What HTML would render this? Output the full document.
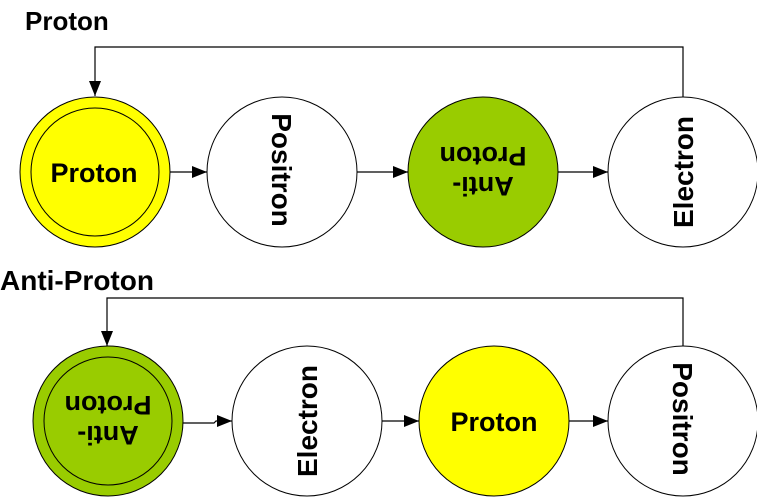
<!DOCTYPE html>
<html><head><style>
html,body{margin:0;padding:0;background:#fff;}
svg{display:block;}
text{font-family:"Liberation Sans",Arial,sans-serif;font-weight:bold;fill:#000;}
</style></head><body>
<svg width="757" height="499" viewBox="0 0 757 499" xmlns="http://www.w3.org/2000/svg">
<defs>
<marker id="ah" markerWidth="15" markerHeight="12" refX="15" refY="6" orient="auto" markerUnits="userSpaceOnUse">
<path d="M0,0 L15,6 L0,12 z" fill="#000"/>
</marker>
</defs>
<text x="25" y="30" font-size="26">Proton</text>
<text x="0" y="290" font-size="28">Anti-Proton</text>

<!-- top row -->
<polyline points="683,97 683,47 95,47 95,96" fill="none" stroke="#000" stroke-width="1.2" marker-end="url(#ah)"/>
<circle cx="95" cy="172" r="75" fill="#ffff00" stroke="#000" stroke-width="1"/>
<circle cx="95" cy="172" r="64" fill="none" stroke="#000" stroke-width="1"/>
<text x="94" y="182" font-size="27" text-anchor="middle">Proton</text>
<line x1="170" y1="172" x2="207" y2="172" stroke="#000" stroke-width="1.2" marker-end="url(#ah)"/>
<circle cx="282" cy="172" r="75" fill="#fff" stroke="#000" stroke-width="1"/>
<text transform="translate(272,170) rotate(90)" font-size="28" text-anchor="middle">Positron</text>
<line x1="357" y1="172" x2="408" y2="172" stroke="#000" stroke-width="1.2" marker-end="url(#ah)"/>
<circle cx="483" cy="172" r="75" fill="#99cc00" stroke="#000" stroke-width="1"/>
<text transform="translate(483,172) rotate(180)" font-size="27" text-anchor="middle"><tspan x="0" y="-5">Anti-</tspan><tspan x="0" y="25">Proton</tspan></text>
<line x1="558" y1="172" x2="608" y2="172" stroke="#000" stroke-width="1.2" marker-end="url(#ah)"/>
<circle cx="683" cy="172" r="75" fill="#fff" stroke="#000" stroke-width="1"/>
<text transform="translate(693,172) rotate(-90)" font-size="28" text-anchor="middle">Electron</text>

<!-- bottom row -->
<polyline points="683,346 683,298 107,298 107,346" fill="none" stroke="#000" stroke-width="1.2" marker-end="url(#ah)"/>
<circle cx="108" cy="421" r="75" fill="#99cc00" stroke="#000" stroke-width="1"/>
<circle cx="108" cy="421" r="64" fill="none" stroke="#000" stroke-width="1"/>
<text transform="translate(108,421) rotate(180)" font-size="27" text-anchor="middle"><tspan x="0" y="-5">Anti-</tspan><tspan x="0" y="25">Proton</tspan></text>
<polyline points="183,423 214,423 216,421 232,421" fill="none" stroke="#000" stroke-width="1.2" marker-end="url(#ah)"/>
<circle cx="307" cy="421" r="75" fill="#fff" stroke="#000" stroke-width="1"/>
<text transform="translate(317,421) rotate(-90)" font-size="28" text-anchor="middle">Electron</text>
<line x1="382" y1="421" x2="419" y2="421" stroke="#000" stroke-width="1.2" marker-end="url(#ah)"/>
<circle cx="494" cy="421" r="75" fill="#ffff00" stroke="#000" stroke-width="1"/>
<text x="494" y="431" font-size="27" text-anchor="middle">Proton</text>
<line x1="569" y1="421" x2="608" y2="421" stroke="#000" stroke-width="1.2" marker-end="url(#ah)"/>
<circle cx="683" cy="421" r="75" fill="#fff" stroke="#000" stroke-width="1"/>
<text transform="translate(673,419) rotate(90)" font-size="28" text-anchor="middle">Positron</text>
</svg>
</body></html>
